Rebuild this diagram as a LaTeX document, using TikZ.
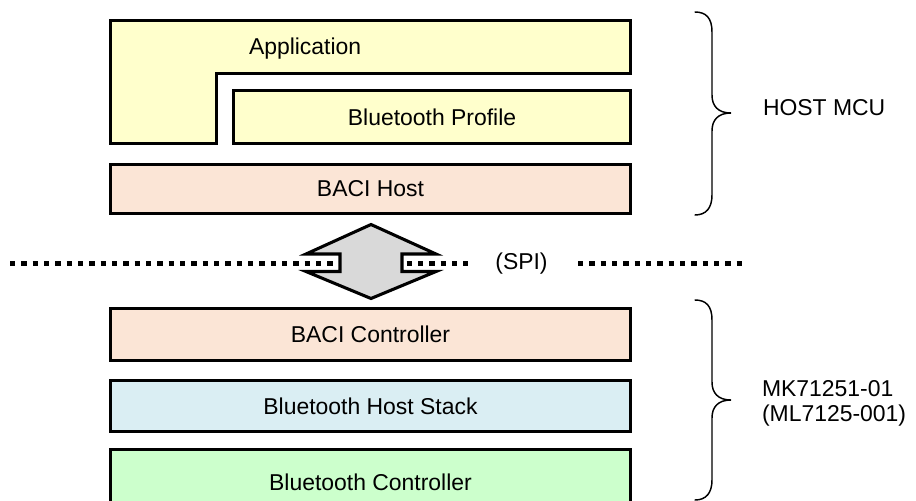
\documentclass[tikz,border=0pt]{standalone}
\usepackage{fontspec}
\setmainfont{Liberation Sans}
\definecolor{appyellow}{HTML}{FFFFCC}
\definecolor{baciorange}{HTML}{FBE5D6}
\definecolor{stackblue}{HTML}{DAEEF3}
\definecolor{ctrlgreen}{HTML}{CCFFCC}
\definecolor{arrowgray}{HTML}{D9D9D9}
\begin{document}
\begin{tikzpicture}[x=0.75pt,y=-0.75pt,
  font=\fontsize{17.2pt}{20pt}\selectfont,
  layer/.style={draw=black, line width=2.5pt, inner sep=0pt, outer sep=0pt, anchor=center},
  fulllayer/.style={layer, minimum width=389.7pt},
  lbl/.style={inner sep=0pt, outer sep=0pt},
  bracepath/.style={draw=black, line width=1.1pt, line cap=round},
  busline/.style={draw=black, line width=4pt, dash pattern=on 3.9pt off 4.6pt}]
\useasboundingbox (0,0) rectangle (916,500);

% Application (L-shaped)
\draw[fill=appyellow, line width=2.5pt] (110.7,20.7) -- (630.3,20.7) -- (630.3,73.3)
  -- (216.3,73.3) -- (216.3,143.3) -- (110.7,143.3) -- cycle;
\node[lbl, anchor=base west] (app) at (249,54) {Application};

% Bluetooth Profile
\node[layer, fill=appyellow, minimum width=297.45pt, minimum height=39.45pt] (profile) at (432,117) {Bluetooth Profile};

% BACI Host
\node[fulllayer, fill=baciorange, minimum height=36.45pt] (bacihost) at (370.5,189) {BACI Host};

% bus line
\draw[busline] (10,263.3) -- (468,263.3);
\draw[busline] (578,263.3) -- (747,263.3);
\node[lbl, anchor=base] (spi) at (521.5,269) {(SPI)};

% double arrow
\draw[fill=arrowgray, line width=2.3pt] (371,224.5) -- (436,254) -- (402,254) -- (402,271.5)
  -- (436,271.5) -- (371,298.5) -- (306,271.5) -- (340,271.5) -- (340,254) -- (306,254) -- cycle;

% lower layers
\node[fulllayer, fill=baciorange, minimum height=38.7pt] (bacictrl) at (370.5,334.5) {BACI Controller};
\node[fulllayer, fill=stackblue, minimum height=37.95pt] (hoststack) at (370.5,406) {Bluetooth Host Stack};
\node[fulllayer, fill=ctrlgreen, minimum height=49.2pt] (btctrl) at (370.5,482.5) {Bluetooth Controller};

% braces
\draw[bracepath] (695,12) .. controls (706,12) and (712,18) .. (712,32) -- (712,95)
  .. controls (712,106) and (718,113) .. (731,113)
  .. controls (718,113) and (712,120) .. (712,131) -- (712,195)
  .. controls (712,208) and (706,215) .. (695,215);
\draw[bracepath] (695,300) .. controls (706,300) and (712,306) .. (712,320) -- (712,382)
  .. controls (712,393) and (718,400) .. (731,400)
  .. controls (718,400) and (712,407) .. (712,418) -- (712,480)
  .. controls (712,493) and (706,500) .. (695,500);

\node[lbl, anchor=base west] (hostmcu) at (763,115) {HOST MCU};
\node[lbl, anchor=base west] (mk1) at (762,396) {MK71251-01};
\node[lbl, anchor=base west] (mk2) at (762,421) {(ML7125-001)};
\end{tikzpicture}
\end{document}
